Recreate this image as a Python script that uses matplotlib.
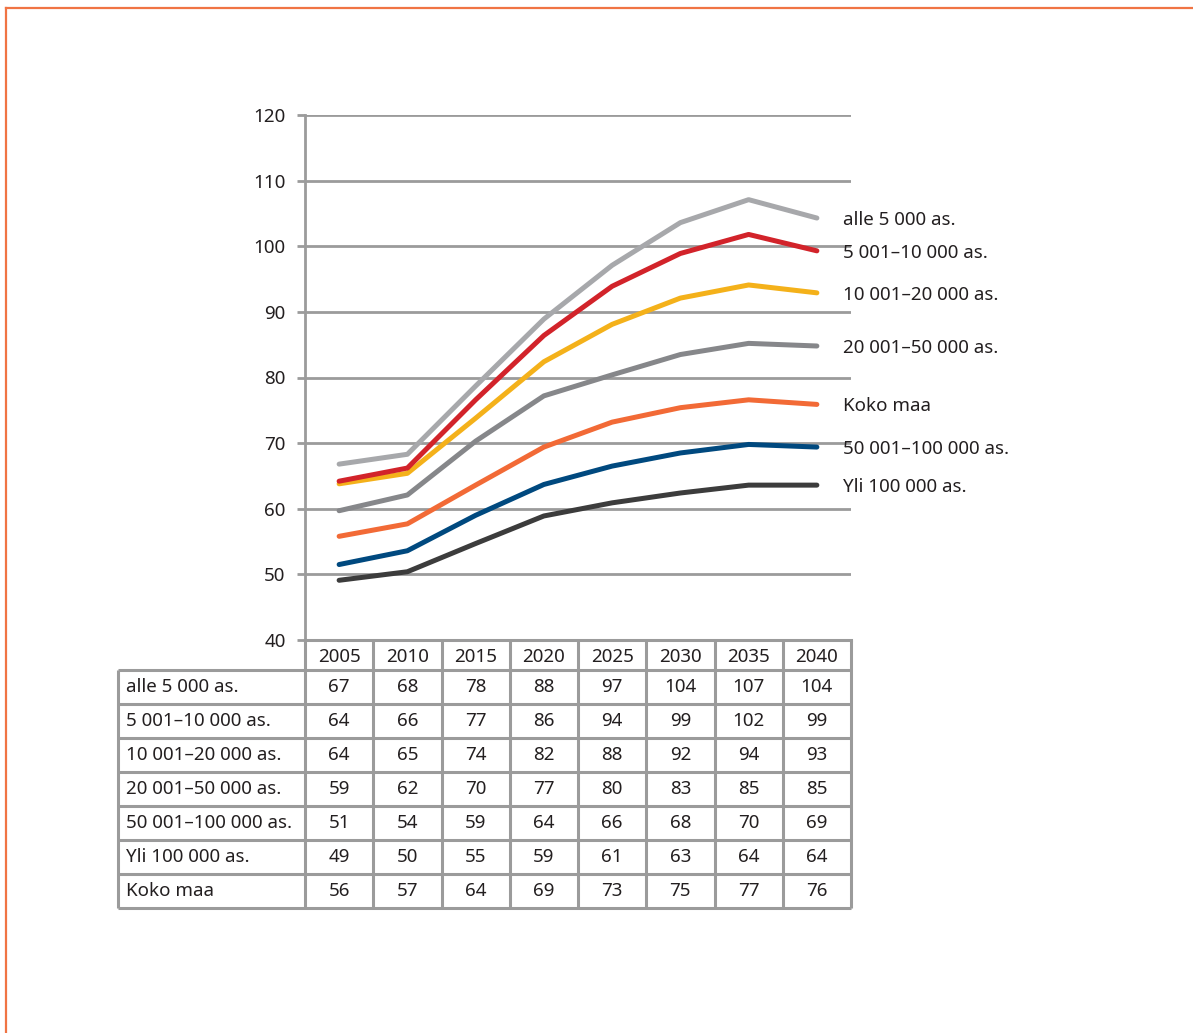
import numpy as np
import matplotlib
matplotlib.use('Agg')
import matplotlib.pyplot as plt
from matplotlib.lines import Line2D

plt.rcParams['font.family'] = ['Noto Sans', 'DejaVu Sans']

# data
years = [2005, 2010, 2015, 2020, 2025, 2030, 2035, 2040]
groups = ['alle 5 000 as.', '5 001–10 000 as.', '10 001–20 000 as.', '20 001–50 000 as.',
          '50 001–100 000 as.', 'Yli 100 000 as.', 'Koko maa']

# values as drawn in the chart (unrounded)
alle5 = [66.8, 68.3, 78.7, 88.9, 97.1, 103.6, 107.1, 104.3]
g5_10 = [64.2, 66.2, 76.6, 86.4, 93.9, 98.9, 101.8, 99.3]
g10_20 = [63.8, 65.4, 73.8, 82.4, 88.1, 92.1, 94.1, 92.9]
g20_50 = [59.7, 62.1, 70.3, 77.2, 80.4, 83.5, 85.2, 84.8]
g50_100 = [51.5, 53.6, 59.0, 63.7, 66.5, 68.5, 69.8, 69.4]
yli100 = [49.1, 50.4, 54.7, 58.9, 60.9, 62.4, 63.6, 63.6]
koko = [55.8, 57.7, 63.6, 69.4, 73.2, 75.4, 76.6, 75.9]

# table values (rounded)
tab_alle5 = [67, 68, 78, 88, 97, 104, 107, 104]
tab_5_10 = [64, 66, 77, 86, 94, 99, 102, 99]
tab_10_20 = [64, 65, 74, 82, 88, 92, 94, 93]
tab_20_50 = [59, 62, 70, 77, 80, 83, 85, 85]
tab_50_100 = [51, 54, 59, 64, 66, 68, 70, 69]
tab_yli100 = [49, 50, 55, 59, 61, 63, 64, 64]
tab_koko = [56, 57, 64, 69, 73, 75, 77, 76]

W, H = 1193, 1033
fig = plt.figure(figsize=(W / 100, H / 100), dpi=100)

def fx(px):
    return px / W

def fy(py):
    return 1 - py / H

gridc = '#9b9b9b'
txtc = '#231f20'
fs = 13.5

# chart axes
ax = fig.add_axes([fx(305), fy(640), fx(851) - fx(305), fy(115) - fy(640)])
ax.set_xlim(2002.5, 2042.5)
ax.set_ylim(40, 120)
ax.set_yticks(range(40, 121, 10))
ax.tick_params(axis='y', length=6, width=2, color=gridc, labelsize=fs, labelcolor=txtc, pad=8)
ax.set_xticks([])
for s in ['top', 'right', 'bottom']:
    ax.spines[s].set_visible(False)
ax.spines['left'].set_color(gridc)
ax.spines['left'].set_linewidth(2)
for v in range(50, 121, 10):
    ax.axhline(v, color=gridc, lw=2, zorder=1)

series = [
    (alle5, '#a7a8ab', 'alle 5 000 as.'),
    (g5_10, '#d2232a', '5 001–10 000 as.'),
    (g10_20, '#f4b11a', '10 001–20 000 as.'),
    (g20_50, '#86878a', '20 001–50 000 as.'),
    (koko, '#f26a36', 'Koko maa'),
    (g50_100, '#00497f', '50 001–100 000 as.'),
    (yli100, '#3c3c3c', 'Yli 100 000 as.'),
]
for vals, col, lab in reversed(series):
    ax.plot(years, vals, color=col, lw=3.6, solid_capstyle='round', solid_joinstyle='round', zorder=3)
for vals, col, lab in series:
    ax.annotate(lab, (years[-1], vals[-1]), xytext=(18.5, -1.5), textcoords='offset points',
                va='center', ha='left', fontsize=fs, color=txtc, annotation_clip=False)

# table axes
tab = fig.add_axes([fx(118), fy(908), fx(851) - fx(118), fy(640) - fy(908)])
x_left = 2002.5 - (305 - 118) / (68.25 / 5)
tab.set_xlim(x_left, 2042.5)
row_edges = [0, 30] + [30 + 34.0 * (i + 1) for i in range(7)]
tab.set_ylim(row_edges[-1], 0)
tab.axis('off')

table_rows = [tab_alle5, tab_5_10, tab_10_20, tab_20_50, tab_50_100, tab_yli100, tab_koko]
col_edges = [2002.5 + 5 * i for i in range(9)]
lw_t = 2.2
# header row
tab.plot([col_edges[0], col_edges[-1]], [0, 0], color=gridc, lw=lw_t, clip_on=False)
for xe in col_edges:
    tab.plot([xe, xe], [0, row_edges[-1]], color=gridc, lw=lw_t, clip_on=False, solid_capstyle='butt')
tab.plot([x_left, x_left], [row_edges[1], row_edges[-1]], color=gridc, lw=lw_t, clip_on=False, solid_capstyle='butt')
for ye in row_edges[1:]:
    tab.plot([x_left, col_edges[-1]], [ye, ye], color=gridc, lw=lw_t, clip_on=False, solid_capstyle='butt')
for yr in years:
    tab.text(yr, 16.5, str(yr), ha='center', va='center', fontsize=fs, color=txtc)
for i, (name, vals) in enumerate(zip(groups, table_rows)):
    yc = (row_edges[i + 1] + row_edges[i + 2]) / 2 + 0.5
    tab.text(x_left + 0.55, yc, name, ha='left', va='center', fontsize=fs, color=txtc)
    for yr, v in zip(years, vals):
        tab.text(yr, yc, str(v), ha='center', va='center', fontsize=fs, color=txtc)

# orange frame
framec = '#f07444'
fig.add_artist(Line2D([fx(6), 1], [fy(8), fy(8)], color=framec, lw=1.6, transform=fig.transFigure))
fig.add_artist(Line2D([fx(6), fx(6)], [fy(8), 0], color=framec, lw=1.6, transform=fig.transFigure))

fig.savefig('out.png', dpi=100, facecolor='white')
